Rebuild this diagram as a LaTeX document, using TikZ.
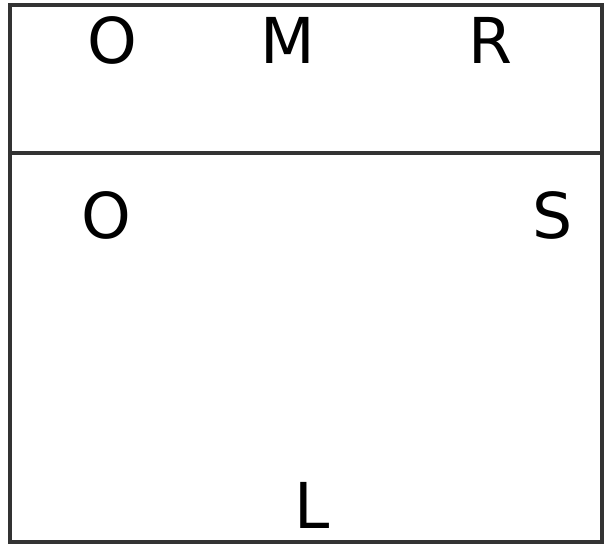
\documentclass[tikz,border=0pt]{standalone}
\usepackage{fontspec}
\setmainfont{DejaVu Sans}
\usetikzlibrary{positioning}

\begin{document}
\begin{tikzpicture}[
  x=0.02cm,
  y=-0.02cm,
  frame/.style={
    draw=black!80,
    line width=2.6pt
  },
  letter/.style={
    font=\fontsize{36}{36}\selectfont,
    inner sep=0pt,
    anchor=center
  }
]

% Canvas
\useasboundingbox (0,0) rectangle (605,546);

% Frame and divider
\draw[frame] (10,5) rectangle (602,542);
\draw[frame] (10,153) -- (602,153);

% Top panel
\node[letter] (otop) at (112,40) {O};
\node[letter] (m) at (288,40) {M};
\node[letter] (r) at (490,40) {R};

% Bottom panel
\node[letter] (obot) at (106,215) {O};
\node[letter] (s) at (553,215) {S};
\node[letter] (l) at (312,505) {L};

\end{tikzpicture}
\end{document}
